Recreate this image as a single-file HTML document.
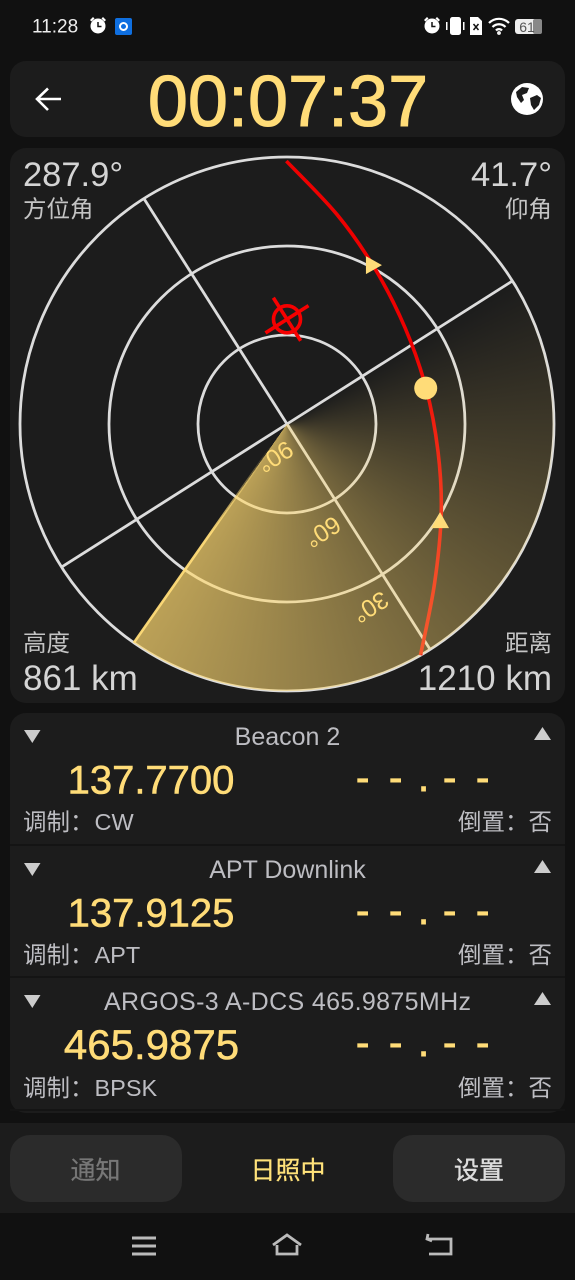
<!DOCTYPE html>
<html lang="zh">
<head>
<meta charset="utf-8">
<title>Satellite pass radar</title>
<style>
html,body{margin:0;padding:0;background:#111;width:575px;height:1280px;overflow:hidden}
svg{display:block;font-family:"Liberation Sans","Noto Sans CJK SC",sans-serif}
.sub{fill:#c4c4c4;font-size:23.500px}
.big{fill:#d4d4d4;font-size:35px}
.title{fill:#bdbdc2;font-size:25px;text-anchor:middle}
.freq{fill:#ffdc78;font-size:40px;stroke:#ffdc78;stroke-width:.6px;text-anchor:middle}
.dash{fill:#ffdc78;font-size:40px;stroke:#ffdc78;stroke-width:.9px}
.meta{fill:#bdbdc2;font-size:23.500px}
.end{text-anchor:end}
</style>
</head>
<body>
<svg id="page" xmlns="http://www.w3.org/2000/svg" width="575" height="1280" viewBox="0 0 575 1280">
  <rect width="575" height="1280" fill="#111"/>

  <g>
    <text x="32" y="32.500" font-size="19" fill="#eee">11:28</text>
    <g fill="#fff">
      <circle cx="98" cy="26" r="7.500"/><path d="M90 20l3-3 1.500 1.500-3 3zM106 20l-3-3-1.500 1.500 3 3z"/>
      <path d="M98 22v4.500h3.500" stroke="#111" stroke-width="1.500" fill="none"/>
    </g>
    <rect x="115" y="18" width="17" height="17" rx="2" fill="#0f6fe0"/>
    <circle cx="123.500" cy="26.500" r="3.500" fill="none" stroke="#fff" stroke-width="2"/>
    <g fill="#fff">
      <circle cx="432" cy="26" r="7.500"/><path d="M424 20l3-3 1.500 1.500-3 3zM440 20l-3-3-1.500 1.500 3 3z"/>
      <path d="M432 22v4.500h3.500" stroke="#111" stroke-width="1.500" fill="none"/>
    </g>
    <g fill="#fff">
      <rect x="450" y="17" width="11" height="18" rx="2.500"/><rect x="446" y="22" width="1.500" height="8"/><rect x="463" y="22" width="1.500" height="8"/>
    </g>
    <path d="M470 17h8l4 4v14h-12z" fill="#fff"/>
    <path d="M473.500 24l5 6m0-6l-5 6" stroke="#111" stroke-width="1.500"/>
    <g fill="none" stroke="#fff" stroke-width="2.200">
      <path d="M489 23a14 14 0 0 1 20 0M492.500 27a9 9 0 0 1 13 0M496 30.500a4 4 0 0 1 6 0"/>
      <circle cx="499" cy="33" r=".8"/>
    </g>
    <rect x="515" y="19" width="27" height="15" rx="3" fill="#eee"/>
    <rect x="533" y="19" width="9" height="15" rx="2" fill="#888"/>
    <text x="527" y="32" font-size="14" fill="#555" text-anchor="middle">61</text>
  </g>

  <g>
    <rect x="10" y="61" width="555" height="76" rx="16" fill="#1c1c1c"/>
    <path d="M61 99H37M48 88.500L37 99l11 11" fill="none" stroke="#fff" stroke-width="2.600"/>
    <text x="288" y="126" font-size="72" fill="#ffdc78" stroke="#ffdc78" stroke-width="1" text-anchor="middle">00:07:37</text>
    <g>
      <circle cx="527" cy="99" r="16" fill="#fff"/>
      <path d="M516 92l6-5 7 1-2 5-5 2 2 5-3 3-4-6zM530 98l7-3 4 3-2 7-5 5-3-5z" fill="#1c1c1c"/>
    </g>
  </g>

  <g>
    <rect x="10" y="148" width="555" height="555" rx="16" fill="#1c1c1c"/>
    <g id="radar"></g>
    <text class="big" x="23" y="186" style="font-size:34.500px">287.9°</text>
    <text class="sub" x="23" y="217">方位角</text>
    <text class="big end" x="552" y="186" style="font-size:34.500px">41.7°</text>
    <text class="sub end" x="552" y="217">仰角</text>
    <text class="sub" x="23" y="651">高度</text>
    <text class="big" x="23" y="690">861 km</text>
    <text class="sub end" x="552" y="651">距离</text>
    <text class="big end" x="552" y="690">1210 km</text>
  </g>

  <g>
    <rect x="10" y="713" width="555" height="400" rx="16" fill="#1c1c1c"/>
    <rect x="10" y="844" width="555" height="2" fill="#141414"/>
    <rect x="10" y="976" width="555" height="2" fill="#141414"/>
    <rect x="10" y="1109" width="555" height="2" fill="#141414"/>

    <g>
      <path d="M24 730h16.500l-8.200 13z" fill="#ccc"/>
      <path d="M534 740h17l-8.500-13z" fill="#ccc"/>
      <text class="title" x="287.500" y="745">Beacon 2</text>
      <text class="freq" x="151" y="793.500">137.7700</text>
      <text class="dash" x="356 389 418 443 476" y="791">--.--</text>
      <text class="meta" x="23" y="830">调制：<tspan dx="1">CW</tspan></text>
      <text class="meta end" x="552" y="830">倒置：否</text>
    </g>
    <g>
      <path d="M24 863h16.500l-8.200 13z" fill="#ccc"/>
      <path d="M534 873h17l-8.500-13z" fill="#ccc"/>
      <text class="title" x="287.500" y="878">APT Downlink</text>
      <text class="freq" x="151" y="926.500">137.9125</text>
      <text class="dash" x="356 389 418 443 476" y="924">--.--</text>
      <text class="meta" x="23" y="963">调制：<tspan dx="1">APT</tspan></text>
      <text class="meta end" x="552" y="963">倒置：否</text>
    </g>
    <g>
      <path d="M24 995h16.500l-8.200 13z" fill="#ccc"/>
      <path d="M534 1005h17l-8.500-13z" fill="#ccc"/>
      <text class="title" x="104" y="1010" textLength="367" style="text-anchor:start">ARGOS-3 A-DCS 465.9875MHz</text>
      <text class="freq" x="151.500" y="1059" style="font-size:42px">465.9875</text>
      <text class="dash" x="356 389 418 443 476" y="1056">--.--</text>
      <text class="meta" x="23" y="1096">调制：<tspan dx="1">BPSK</tspan></text>
      <text class="meta end" x="552" y="1096">倒置：否</text>
    </g>
  </g>

  <g>
    <rect x="0" y="1123" width="575" height="90" fill="#1c1c1c"/>
    <g>
      <rect x="10" y="1135" width="172" height="67" rx="20" fill="#2b2b2b"/>
      <text x="95.500" y="1179" font-size="25" fill="#777" stroke="#777" stroke-width=".3" text-anchor="middle">通知</text>
    </g>
    <text x="288" y="1179" font-size="25" fill="#ffe27a" stroke="#ffe27a" stroke-width=".2" text-anchor="middle">日照中</text>
    <g>
      <rect x="393" y="1135" width="172" height="67" rx="20" fill="#2b2b2b"/>
      <text x="479" y="1179" font-size="25" fill="#ddd" stroke="#ddd" stroke-width=".4" text-anchor="middle">设置</text>
    </g>
  </g>

  <g>
    <path d="M132 1238h24M132 1246h24M132 1254h24" stroke="#bbb" stroke-width="3" fill="none"/>
    <path d="M273 1245l14-10 14 10M277 1245v9h20v-9" stroke="#bbb" stroke-width="2.800" fill="none"/>
    <path d="M428 1234l-1 5 5 2M428 1239h23v15h-22" stroke="#bbb" stroke-width="2.800" fill="none"/>
  </g>
</svg>

<script>
// Chart data: horizon coordinates in degrees.
const ringElevations = [60, 30, 0];
const spokeAzimuths = [0, 90, 180, 270];
const tickElevations = [90, 60, 30];
const tickLabels = ['90°', '60°', '30°'];
const trackAzimuths = [212.26, 225.84, 241.98, 263.27, 287.89, 312.72, 332.53, 349.67, 2.39];
const trackElevations = [1.37, 17.42, 29.87, 38.67, 41.6, 38.26, 29.9, 16.72, 0];
const satelliteAzimuth = [287.9];
const satelliteElevation = [41.7];
const targetAzimuth = [212.4];
const targetElevation = [54.7];
const arrowAzimuths = [240.8, 334.8];
const arrowElevations = [29.1, 28.9];
const sweepStartAzimuth = [270];
const sweepEndAzimuth = [67.4];
const sweepOpacity = [0, 0.7];

const SVGNS = 'http://www.w3.org/2000/svg';
const plotCx = 287, plotCy = 424, plotR = 267;
const northBearing = 147.6;
const radar = document.getElementById('radar');

function radiusOf(el) { return plotR * (90 - el) / 90; }
function screenAngle(az) { return ((az + northBearing) % 360 + 360) % 360; }
function project(az, el, extra) {
  const a = screenAngle(az) * Math.PI / 180;
  const r = radiusOf(el) + (extra || 0);
  return [plotCx + r * Math.sin(a), plotCy - r * Math.cos(a)];
}
function make(tag, parent, attrs) {
  const n = document.createElementNS(SVGNS, tag);
  for (const k in attrs) n.setAttribute(k, attrs[k]);
  parent.appendChild(n);
  return n;
}

// Grid
const gridGroup = make('g', radar, {});


ringElevations.forEach(function (el) {
  const ring = make('circle', gridGroup, { cx: plotCx, cy: plotCy, r: radiusOf(el), fill: 'none', stroke: '#dcdcdc', 'stroke-width': 2.8 });
  
  
});
spokeAzimuths.forEach(function (az) {
  const p = project(az, 0);
  const spoke = make('line', gridGroup, { x1: plotCx, y1: plotCy, x2: p[0], y2: p[1], stroke: '#dcdcdc', 'stroke-width': 2.8 });
  
  
});

// Track as a smooth curve through the points
const trackPts = trackAzimuths.map(function (az, i) { return project(az, trackElevations[i]); });
let trackPath = 'M' + trackPts[0][0] + ' ' + trackPts[0][1];
for (let i = 0; i < trackPts.length - 1; i++) {
  const p0 = trackPts[Math.max(i - 1, 0)], p1 = trackPts[i], p2 = trackPts[i + 1], p3 = trackPts[Math.min(i + 2, trackPts.length - 1)];
  trackPath += 'C' + (p1[0] + (p2[0] - p0[0]) / 6) + ' ' + (p1[1] + (p2[1] - p0[1]) / 6) + ' ' +
    (p2[0] - (p3[0] - p1[0]) / 6) + ' ' + (p2[1] - (p3[1] - p1[1]) / 6) + ' ' + p2[0] + ' ' + p2[1];
}
const track = make('path', radar, { d: trackPath, fill: 'none', stroke: '#ee0000', 'stroke-width': 3.6 });



// Target crosshair
const tgt = project(targetAzimuth[0], targetElevation[0]);
const crosshair = make('g', radar, { fill: 'none', stroke: '#f60000', 'stroke-width': 3.6 });


make('circle', crosshair, { cx: tgt[0], cy: tgt[1], r: 13.5 });
[57.6, 147.6].forEach(function (deg) {
  const a = deg * Math.PI / 180, s = Math.sin(a) * 25.5, c = Math.cos(a) * 25.5;
  make('line', crosshair, { x1: tgt[0] - s, y1: tgt[1] + c, x2: tgt[0] + s, y2: tgt[1] - c });
});

// Sweep sector
const startA = screenAngle(sweepStartAzimuth[0]);
const endA = screenAngle(sweepEndAzimuth[0]);
const fo = make('foreignObject', radar, { x: plotCx - plotR, y: plotCy - plotR, width: plotR * 2, height: plotR * 2 });


const sweep = document.createElement('div');


const span = endA - startA;
sweep.style.cssText = 'width:' + plotR * 2 + 'px;height:' + plotR * 2 + 'px;border-radius:50%;background:conic-gradient(from ' + startA +
  'deg, rgba(255,217,112,' + sweepOpacity[0] + ') 0deg, rgba(255,217,112,' + sweepOpacity[1] + ') ' + span +
  'deg, rgba(255,217,112,0) ' + span + 'deg)';
fo.appendChild(sweep);

const defs = make('defs', radar, {});
const headEnd = project(sweepEndAzimuth[0], 0);
const grad = make('linearGradient', defs, { id: 'headGrad', gradientUnits: 'userSpaceOnUse', x1: plotCx, y1: plotCy, x2: headEnd[0], y2: headEnd[1] });
make('stop', grad, { offset: '0.1', 'stop-color': '#ffdc78', 'stop-opacity': 0 });
make('stop', grad, { offset: '0.5', 'stop-color': '#ffdc78', 'stop-opacity': 0.95 });
const head = make('line', radar, { x1: plotCx, y1: plotCy, x2: headEnd[0], y2: headEnd[1], stroke: 'url(#headGrad)', 'stroke-width': 2.6 });



// Elevation tick labels along the north spoke
tickElevations.forEach(function (el, i) {
  const p = project(0, el, 22);
  const t = make('text', radar, { x: 9, y: 9, 'font-size': 24.5, fill: '#ffdc78', transform: 'translate(' + p[0] + ' ' + p[1] + ') rotate(' + northBearing + ')' });
  
  
  t.textContent = tickLabels[i];
});

// Direction arrows on the track
arrowAzimuths.forEach(function (az, i) {
  const p = project(az, arrowElevations[i]);
  const tri = make('path', radar, { d: 'M0 -9L9 7H-9Z', fill: '#ffdc78', transform: 'translate(' + p[0] + ' ' + p[1] + ') rotate(' + (i === 0 ? 90 : 0) + ')' });
  
  
});

// Satellite marker
const sat = project(satelliteAzimuth[0], satelliteElevation[0]);
const dot = make('circle', radar, { cx: sat[0], cy: sat[1], r: 11.5, fill: '#ffdc78' });


</script>
</body>
</html>
